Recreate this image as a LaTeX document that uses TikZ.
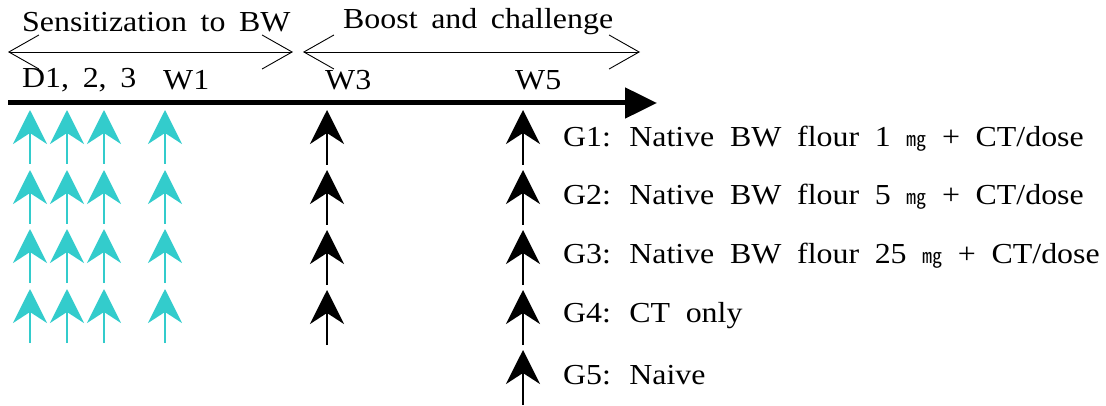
\documentclass[tikz,border=0pt]{standalone}
\usepackage{fontspec}
\setmainfont[FakeStretch=1.1]{Liberation Serif}
\newfontfamily\krfont{Noto Sans CJK KR}
\usetikzlibrary{arrows.meta}
\definecolor{sens}{RGB}{51,204,204}
\newcommand{\unitmg}{{\krfont\fontsize{20}{20}\selectfont ㎎}}
\newcommand{\headtext}{\fontsize{29}{32}\selectfont\spaceskip=0.47em plus 0.1em\relax}
\newcommand{\legendtext}{\fontsize{29}{32}\selectfont\spaceskip=0.54em plus 0.1em\relax}
\tikzset{
  x=1pt, y=-1pt,
  lbl/.style={font=\headtext, inner sep=0pt, anchor=west},
  grp/.style={font=\legendtext, inner sep=0pt, anchor=west},
  phase/.style={line width=0.9pt, {Straight Barb[length=30pt,width=34pt]}-{Straight Barb[length=30pt,width=34pt]}},
  axis/.style={line width=5pt, -{Triangle[length=32pt,width=30pt]}},
  dose/.style={line width=2.6pt, -{Stealth[length=34pt,width=34pt,inset=11pt]}},
  sensdose/.style={dose, draw=sens, fill=sens},
  boostdose/.style={dose, draw=black, fill=black},
}
\begin{document}
\begin{tikzpicture}
\useasboundingbox (0,0) rectangle (1106,406);

% phase headers
\node[lbl] (tsens) at (22,22) {Sensitization to BW};
\node[lbl] (tboost) at (343,22) {Boost and challenge};
\coordinate (s1) at (8,52);   \coordinate (s2) at (293,52);
\coordinate (b1) at (303,52); \coordinate (b2) at (640,52);
\draw[phase] (s1) -- (s2);
\draw[phase] (b1) -- (b2);

% time points
\node[lbl] (td) at (22,80) {D1, 2, 3};
\node[lbl] (tw1) at (163,80) {W1};
\node[lbl] (tw3) at (325,80) {W3};
\node[lbl] (tw5) at (515,80) {W5};

% time axis
\coordinate (a0) at (8,103); \coordinate (a1) at (657,103);
\draw[axis] (a0) -- (a1);

% sensitization doses (days 1-3 and week 1), groups 1-4
\foreach \c/\x in {1/30,2/67,3/104,4/165}{
  \foreach \r/\y in {1/110,2/170,3/229,4/289}{
    \coordinate (st\c\r) at (\x,\y+54);
    \coordinate (sh\c\r) at (\x,\y);
    \draw[sensdose] (st\c\r) -- (sh\c\r);
  }
}

% boost at week 3, groups 1-4
\foreach \r/\y in {1/110,2/170,3/230,4/290}{
  \coordinate (bt\r) at (327,\y+55);
  \coordinate (bh\r) at (327,\y);
  \draw[boostdose] (bt\r) -- (bh\r);
}

% challenge at week 5, groups 1-5
\foreach \r/\y in {1/110,2/170,3/230,4/290,5/350}{
  \coordinate (ct\r) at (523,\y+55);
  \coordinate (ch\r) at (523,\y);
  \draw[boostdose] (ct\r) -- (ch\r);
}

% group legend
\node[grp] (g1) at (563,139) {G1: Native BW flour 1 \unitmg{} + CT/dose};
\node[grp] (g2) at (563,197) {G2: Native BW flour 5 \unitmg{} + CT/dose};
\node[grp] (g3) at (563,256) {G3: Native BW flour 25 \unitmg{} + CT/dose};
\node[grp] (g4) at (563,316) {G4: CT only};
\node[grp] (g5) at (563,375) {G5: Naive};
\end{tikzpicture}
\end{document}
